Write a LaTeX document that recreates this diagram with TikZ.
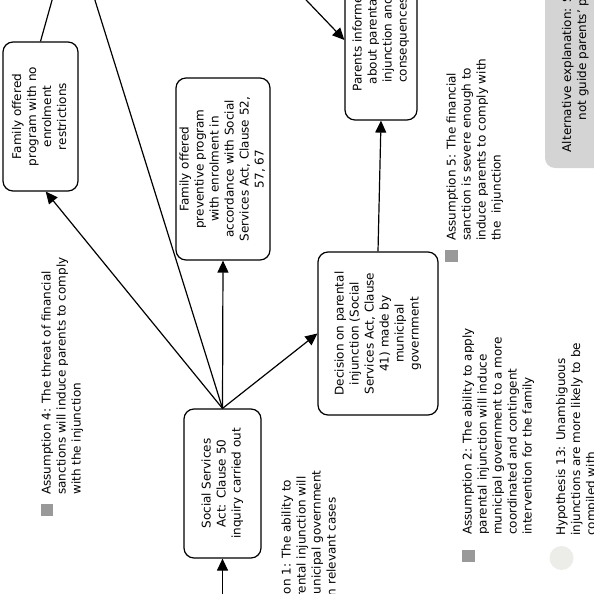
\documentclass[tikz,border=0pt]{standalone}
\usepackage{graphicx}
\usepackage{fontspec}
\setmainfont{DejaVu Sans}
\usetikzlibrary{arrows.meta}
\definecolor{bulletgray}{RGB}{153,153,153}
\definecolor{altgray}{RGB}{212,212,212}
\definecolor{hypfill}{RGB}{236,236,232}
\newcommand{\rtext}[2][c]{\rotatebox{90}{\begin{tabular}{@{}#1@{}}#2\end{tabular}}}
\begin{document}
\begin{tikzpicture}[x=1pt,y=-1pt,
  every node/.style={font=\fontsize{12}{15}\selectfont},
  box/.style={draw, rounded corners=10pt, line width=1.2pt, inner sep=0pt, fill=white},
  note/.style={inner sep=0pt, anchor=south west},
  conn/.style={line width=1.2pt, -{Triangle[length=12pt,width=11pt]}},
  plain/.style={line width=1.2pt},
  sqbullet/.style={fill=bulletgray, minimum size=12.5pt, inner sep=0pt},
  rdbullet/.style={circle, fill=hypfill, minimum size=24pt, inner sep=0pt},
]
\useasboundingbox (0,0) rectangle (594,594);
\clip (0,0) rectangle (594,594);

% alternative explanation box
\node[fill=altgray, rounded corners=10pt, minimum width=61pt, minimum height=258pt, inner sep=0pt] (alt) at (575.5,39)
  {\rtext{Alternative explanation: Sanctions do\\not guide parents' practice}};

% main nodes
\node[box, minimum width=75pt, minimum height=149pt] (n1) at (40.5,116.5)
  {\rtext{Family offered\\program with no\\enrolment\\restrictions}};
\node[box, minimum width=94pt, minimum height=182pt] (n2) at (223,169)
  {\rtext{Family offered\\preventive program\\with enrolment in\\accordance with Social\\Services Act, Clause 52,\\57, 67}};
\node[box, minimum width=77pt, minimum height=149pt] (n3) at (222.5,483.5)
  {\rtext{Social Services\\Act: Clause 50\\inquiry carried out}};
\node[box, minimum width=120pt, minimum height=163pt] (n4) at (378,333.5)
  {\rtext{Decision on parental\\injunction (Social\\Services Act, Clause\\41) made by\\municipal\\government}};
\node[box, minimum width=72pt, minimum height=160pt] (n5) at (381,40)
  {\rtext{Parents informed\\about parental\\injunction and\\consequences}};

% off-page ends
\coordinate (o1) at (57.7,-20);
\coordinate (o2) at (82.4,-40);
\coordinate (o3) at (287,-20);
\coordinate (o4) at (222.5,620);

% connectors
\draw[conn] (n3.north) -- (n2.south);
\draw[conn] (n3.north) -- (n4.west);
\draw[conn] (n3.north) -- (n1.-86.5);
\draw[plain] (n3.north) -- (o2);
\draw[plain] (n1.north) -- (o1);
\draw[conn] (o3) -- (n5.west);
\draw[conn] (n4.north) -- (n5.south);
\draw[conn] (o4) -- (n3.south);

% annotations
\node[sqbullet] (b4) at (47,510) {};
\node[note] (a4) at (39.8,495)
  {\rtext[l]{Assumption 4: The threat of financial\\sanctions will induce parents to comply\\with the injunction}};
\node[sqbullet] (b5) at (451.5,256) {};
\node[note] (a5) at (444.8,241)
  {\rtext[l]{Assumption 5: The financial\\sanction is severe enough to\\induce parents to comply with\\the~~injunction}};
\node[sqbullet] (b2) at (468.5,556) {};
\node[note] (a2) at (460.8,535)
  {\rtext[l]{Assumption 2: The ability to apply\\parental injunction will induce\\municipal government to a more\\coordinated and contingent\\intervention for the family}};
\node[rdbullet] (b13) at (561.5,558) {};
\node[note] (h13) at (554.5,536)
  {\rtext[l]{Hypothesis 13: Unambiguous\\injunctions are more likely to be\\compiled with}};
\node[note] (a1) at (279.8,650)
  {\rtext[l]{Assumption 1: The ability to\\apply parental injunction will\\induce municipal government\\to react in relevant cases}};
\end{tikzpicture}
\end{document}
